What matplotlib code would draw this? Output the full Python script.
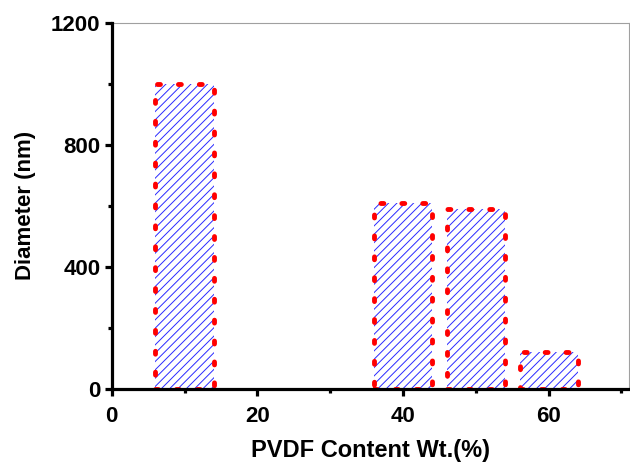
import numpy as np
import matplotlib.pyplot as plt
from matplotlib.ticker import MultipleLocator

plt.rcParams['font.family'] = ['Liberation Sans', 'DejaVu Sans']
plt.rcParams['font.weight'] = 'bold'
plt.rcParams['hatch.linewidth'] = 0.7

# PVDF content (wt.%) and fibre diameter (nm)
pvdf = [10, 40, 50, 60]
diameter = [1000, 610, 590, 120]
bar_width = 8

fig = plt.figure(figsize=(6.3, 4.65), dpi=100)
ax = fig.add_axes([0.1773, 0.1634, 0.8207, 0.788])

# hatched fill
ax.bar(pvdf, diameter, width=bar_width, color='white', edgecolor='#2a2aff',
       linewidth=0, hatch='////', zorder=2)
# red dotted outline
ax.bar(pvdf, diameter, width=bar_width, fill=False, edgecolor='red',
       linewidth=3.5, linestyle=(0, (0.6, 3.7)), capstyle='round', zorder=3)

ax.set_xlim(0, 71)
ax.set_ylim(0, 1200)
ax.xaxis.set_major_locator(MultipleLocator(20))
ax.xaxis.set_minor_locator(MultipleLocator(10))
ax.yaxis.set_major_locator(MultipleLocator(400))
ax.yaxis.set_minor_locator(MultipleLocator(200))

for side in ['left', 'bottom']:
    ax.spines[side].set_linewidth(2.3)
    ax.spines[side].set_zorder(4)
for side in ['top', 'right']:
    ax.spines[side].set_linewidth(0.8)
    ax.spines[side].set_color('#a0a0a0')

ax.tick_params(which='major', length=5, width=2.3, labelsize=16, pad=3)
ax.tick_params(which='minor', length=3, width=2.3)
ax.tick_params(axis='x', which='major', pad=7)
ax.tick_params(top=False, right=False, which='both')

ax.set_xlabel('PVDF Content Wt.(%)', fontsize=17, fontweight='bold', labelpad=9)
ax.set_ylabel('Diameter (nm)', fontsize=16, fontweight='bold', labelpad=11)

plt.savefig('out.png', dpi=100)
